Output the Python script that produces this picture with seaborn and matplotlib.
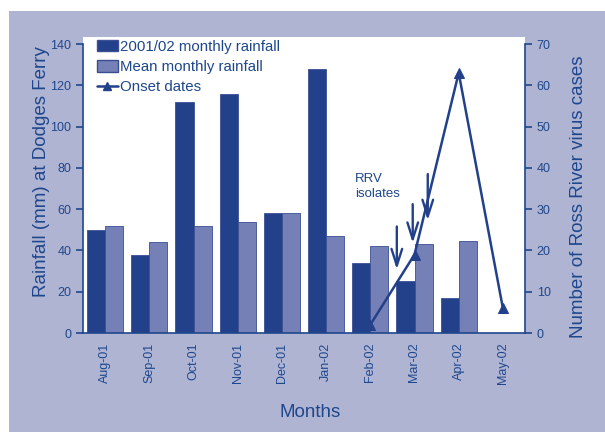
import matplotlib
matplotlib.use("Agg")
import matplotlib.pyplot as plt
import seaborn as sns
import pandas as pd
from matplotlib.patches import Rectangle, Patch
from matplotlib.lines import Line2D

months = ["Aug-01", "Sep-01", "Oct-01", "Nov-01", "Dec-01", "Jan-02",
          "Feb-02", "Mar-02", "Apr-02", "May-02"]
rain_2001_02 = [50, 38, 112, 116, 58, 128, 34, 25, 17, None]
rain_mean = [52, 44, 52, 54, 58, 47, 42, 43, 44.5, None]
onset_months = ["Feb-02", "Mar-02", "Apr-02", "May-02"]
onset_cases = [2, 19, 63, 6]
series_names = ["2001/02 monthly rainfall", "Mean monthly rainfall"]

DARK = "#22418A"
LIGHT = "#7480B6"
TXT = "#1E478C"
BG = "#B0B4D3"

sns.set_theme(style="white")
plt.rcParams["font.family"] = ["Liberation Sans", "DejaVu Sans"]

df = pd.DataFrame({
    "month": months * 2,
    "rain": rain_2001_02 + rain_mean,
    "series": [series_names[0]] * len(months) + [series_names[1]] * len(months),
})

fig = plt.figure(figsize=(6.05, 4.32), dpi=100)
fig.patch.set_facecolor("white")
fig.patches.append(Rectangle((9 / 605, 0), 1, (432 - 11) / 432,
                             transform=fig.transFigure, facecolor=BG,
                             edgecolor="none", zorder=-10))
fig.patches.append(Rectangle((83 / 605, 99 / 432), 442 / 605, (333 - 37) / 432,
                             transform=fig.transFigure, facecolor="white",
                             edgecolor="none", zorder=-9))

ax = fig.add_axes([83 / 605, 99 / 432, 442 / 605, 289 / 432])
ax.set_facecolor("white")
sns.barplot(data=df, x="month", y="rain", hue="series", order=months,
            hue_order=series_names, palette=[DARK, LIGHT], width=0.82,
            gap=0, saturation=1, ax=ax, legend=False, edgecolor="#3A4E92",
            linewidth=0.6)
ax.set_xlim(-0.5, len(months) - 0.5)
ax.set_ylim(0, 140)
ax.set_yticks(range(0, 141, 20))
ax.set_xticks(range(len(months)))
ax.set_xticklabels(months, rotation=90, fontsize=9, color=TXT)
ax.set_xticks([i - 0.5 for i in range(len(months) + 1)], minor=True)
ax.tick_params(axis="x", which="major", length=0, pad=7)
ax.tick_params(axis="x", which="minor", length=5, width=1.2, color=TXT, direction="out")
ax.tick_params(axis="y", length=5, width=1.2, color=TXT, labelsize=9,
               labelcolor=TXT, direction="out", left=True)
ax.set_xlabel("Months", fontsize=13.5, color=TXT, labelpad=14)
ax.xaxis.label.set_x(0.514)
ax.set_ylabel("Rainfall (mm) at Dodges Ferry", fontsize=13.5, color=TXT, labelpad=0)
ax.yaxis.label.set_y(0.557)
for s in ["left", "bottom"]:
    ax.spines[s].set_color(TXT)
    ax.spines[s].set_linewidth(1.2)
ax.spines["top"].set_visible(False)
ax.spines["right"].set_visible(False)

ax2 = ax.twinx()
xpos = [months.index(m) for m in onset_months]
sns.lineplot(x=xpos, y=onset_cases, ax=ax2, color=DARK, linewidth=1.8,
             marker="^", markersize=7, markeredgecolor=DARK, legend=False)
ax2.set_ylim(0, 70)
ax2.set_yticks(range(0, 71, 10))
ax2.tick_params(axis="y", length=5, width=1.2, color=TXT, labelsize=9,
                labelcolor=TXT, direction="out", right=True)
ax2.set_ylabel("Number of Ross River virus cases", fontsize=13.5, color=TXT, labelpad=14)
ax2.yaxis.label.set_y(0.47)
ax2.spines["right"].set_color(TXT)
ax2.spines["right"].set_linewidth(1.2)
for s in ["top", "left", "bottom"]:
    ax2.spines[s].set_visible(False)
ax2.set_xlim(-0.5, len(months) - 0.5)

# RRV isolate arrows
for xa, ys, ye in [(6.6, 25.8, 15.4), (6.96, 31.2, 21.8), (7.3, 38.5, 27.3)]:
    ax2.annotate("", xy=(xa, ye), xytext=(xa, ys),
                 arrowprops=dict(arrowstyle="->,head_length=1.0,head_width=0.32",
                                 color=DARK, lw=1.7, shrinkA=0, shrinkB=0))
ax2.text(5.65, 38.8, "RRV\nisolates", fontsize=9.5, color=TXT, ha="left", va="top",
         linespacing=1.35)

handles = [Patch(facecolor=DARK, edgecolor="#3A4E92"),
           Patch(facecolor=LIGHT, edgecolor="#3A4E92"),
           Line2D([], [], color=DARK, lw=1.8, marker="^", markersize=6)]
leg = ax.legend(handles, series_names + ["Onset dates"], loc="upper left",
                bbox_to_anchor=(0.018, 1.035), frameon=False, fontsize=10.8,
                handlelength=1.4, handleheight=0.8, handletextpad=0.15,
                labelspacing=0.42, borderaxespad=0)
for t in leg.get_texts():
    t.set_color(TXT)

fig.savefig("out.png", dpi=100, facecolor=fig.get_facecolor())
